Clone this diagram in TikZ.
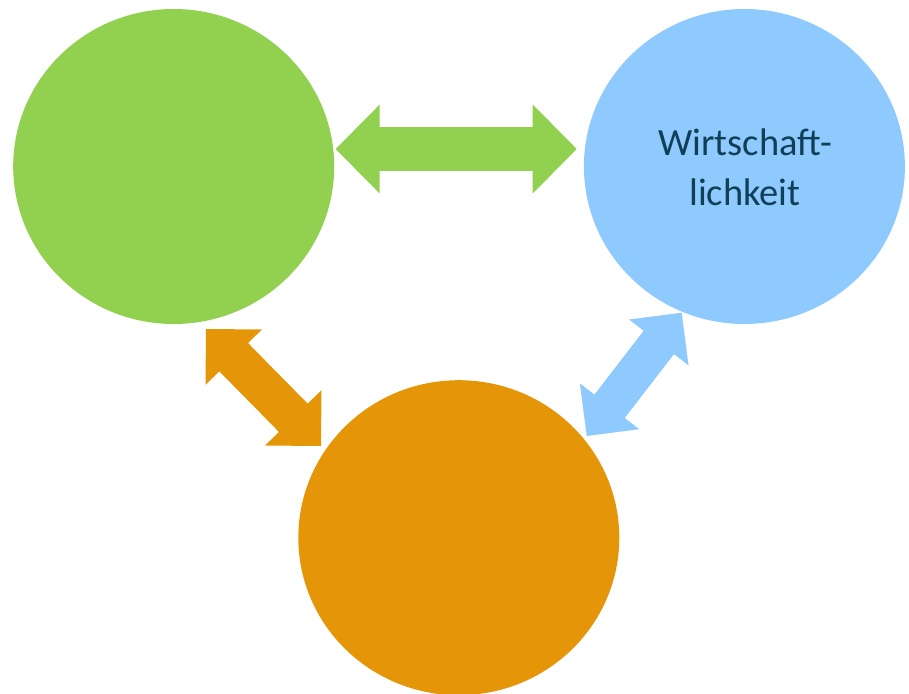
\documentclass[tikz,border=0pt]{standalone}
\usepackage{fontspec}
\setmainfont{Carlito}
\usetikzlibrary{arrows.meta,shapes.geometric}

\definecolor{leafgreen}{RGB}{146,208,80}
\definecolor{skyblue}{RGB}{143,202,255}
\definecolor{amber}{RGB}{229,150,8}
\definecolor{deepteal}{RGB}{16,64,88}

\tikzset{
  blob/.style={ellipse, minimum width=321pt, minimum height=315pt, inner sep=0pt},
  label/.style={text=deepteal, align=center, font=\fontsize{38.5}{50}\selectfont},
  % double-headed block arrow: colour, shaft width, head length, head width
  dblarrow/.style n args={4}{
    draw=#1, line width=#2, line cap=butt,
    {Triangle[length=#3, width=#4, line width=0pt, fill=#1]}-{Triangle[length=#3, width=#4, line width=0pt, fill=#1]}
  },
  % plain shaft laid over the joints between shaft and heads
  shaftfill/.style n args={3}{draw=#1, line width=#2, line cap=butt, shorten <=#3, shorten >=#3}
}

\begin{document}
\begin{tikzpicture}[x=1pt, y=-1pt]
  \useasboundingbox (0,0) rectangle (909,693);

  % the three circles
  \node[blob, fill=leafgreen] (green) at (173.7,166.5) {};
  \node[blob, fill=skyblue]   (blue)  at (744.4,166.5) {};
  \node[blob, fill=amber]     (amber) at (458.8,537.7) {};

  \node[label] (wlabel) at (745,167) {Wirtschaft-\\lichkeit};

  % end points of the double arrows
  \coordinate (gL) at (335.7,149);
  \coordinate (gR) at (576.7,149);
  \coordinate (oA) at (206,329);
  \coordinate (oB) at (321,446);
  \coordinate (bA) at (586.7,436);
  \coordinate (bB) at (681.7,312.7);

  \draw[dblarrow={leafgreen}{44pt}{44pt}{89pt}] (gL) -- (gR);
  \draw[shaftfill={leafgreen}{44pt}{32pt}] (gL) -- (gR);
  \draw[dblarrow={amber}{40pt}{39.5pt}{79pt}] (oA) -- (oB);
  \draw[shaftfill={amber}{40pt}{28pt}] (oA) -- (oB);
  \draw[dblarrow={skyblue}{38pt}{37.5pt}{75pt}] (bA) -- (bB);
  \draw[shaftfill={skyblue}{38pt}{27pt}] (bA) -- (bB);
\end{tikzpicture}
\end{document}
